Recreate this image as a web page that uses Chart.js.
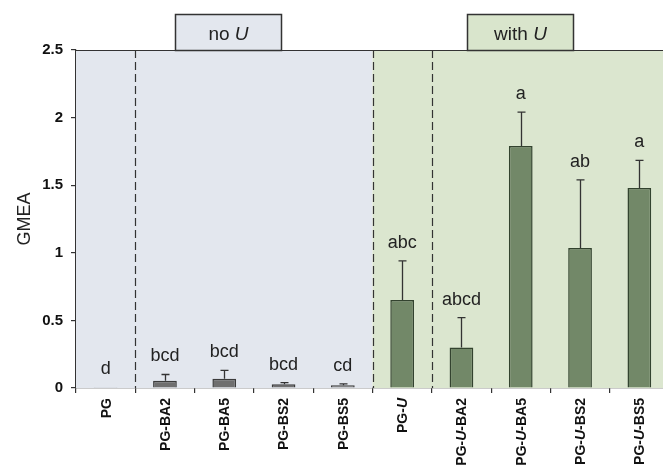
<!DOCTYPE html>
<html>
<head>
<meta charset="utf-8">
<script src="https://cdn.jsdelivr.net/npm/chart.js@4/dist/chart.umd.min.js"></script>
<style>
  html, body { margin: 0; padding: 0; background: #ffffff; overflow: hidden; }
  #wrap { width: 663px; height: 469px; overflow: hidden; }
  canvas { display: block; }
</style>
</head>
<body>
<div id="wrap"><canvas id="c" width="672" height="469"></canvas></div>
<script>
// Treatments on the x axis ("U" is drawn in italics)
const categories = ['PG', 'PG-BA2', 'PG-BA5', 'PG-BS2', 'PG-BS5',
                    'PG-U', 'PG-U-BA2', 'PG-U-BA5', 'PG-U-BS2', 'PG-U-BS5'];
// Mean GMEA per treatment
const gmeaMean = [0.005, 0.054, 0.069, 0.027, 0.020, 0.65, 0.30, 1.79, 1.035, 1.48];
// Upper error (standard error) per treatment
const gmeaError = [0, 0.046, 0.061, 0.013, 0.010, 0.29, 0.22, 0.25, 0.505, 0.204];
// Significance letters
const sigLetters = ['d', 'bcd', 'bcd', 'bcd', 'cd', 'abc', 'abcd', 'a', 'ab', 'a'];
// Group membership: 0 = no U, 1 = with U
const groupIndex = [0, 0, 0, 0, 0, 1, 1, 1, 1, 1];
const groupNames = ['no U', 'with U'];
const yTicks = [0, 0.5, 1, 1.5, 2, 2.5];

const FONT = '"Liberation Sans", Arial, sans-serif';
const INK = '#222222';
const barFill = ['#6f6f6f', '#728868'];
const barEdge = ['#3b3b3b', '#33432f'];
const panelFill = ['#e3e7ee', '#dbe6cf'];
const boxFill = ['#e3e7ee', '#d9e5cc'];

function boundary(xs, i) { // pixel between category i and i+1
  return (xs.getPixelForValue(i) + xs.getPixelForValue(i + 1)) / 2;
}

const decorations = {
  id: 'decorations',
  beforeDatasetsDraw(chart) {
    const { ctx, chartArea: a, scales: { x } } = chart;
    const split = boundary(x, 4);
    ctx.save();
    ctx.fillStyle = panelFill[0];
    ctx.fillRect(a.left, a.top, split - a.left, a.bottom - a.top);
    ctx.fillStyle = panelFill[1];
    ctx.fillRect(split, a.top, a.right - split, a.bottom - a.top);
    // dashed separators
    ctx.strokeStyle = '#333333';
    ctx.lineWidth = 1.2;
    ctx.setLineDash([8, 4]);
    [0, 4, 5].forEach(i => {
      const bx = Math.round(boundary(x, i)) + 0.5;
      ctx.beginPath();
      ctx.moveTo(bx, a.top);
      ctx.lineTo(bx, a.bottom);
      ctx.stroke();
    });
    ctx.restore();
  },
  afterDatasetsDraw(chart) {
    const { ctx, chartArea: a, scales: { x, y } } = chart;
    ctx.save();
    // error bars (upper only)
    ctx.strokeStyle = '#333333';
    ctx.lineWidth = 1.3;
    gmeaMean.forEach((m, i) => {
      const e = gmeaError[i];
      if (e <= 0) return;
      const cx = Math.round(x.getPixelForValue(i)) + 0.5;
      const y0 = y.getPixelForValue(m);
      const y1 = y.getPixelForValue(m + e);
      ctx.beginPath();
      ctx.moveTo(cx, y0);
      ctx.lineTo(cx, y1);
      ctx.moveTo(cx - 4, y1);
      ctx.lineTo(cx + 4, y1);
      ctx.stroke();
    });
    // significance letters
    ctx.fillStyle = INK;
    ctx.font = '18px ' + FONT;
    ctx.textAlign = 'center';
    ctx.textBaseline = 'alphabetic';
    gmeaMean.forEach((m, i) => {
      const cx = x.getPixelForValue(i);
      const top = y.getPixelForValue(m + gmeaError[i]);
      ctx.fillText(sigLetters[i], cx, top - 13);
    });
    // top frame line
    ctx.strokeStyle = '#333333';
    ctx.lineWidth = 1.2;
    ctx.beginPath();
    ctx.moveTo(a.left, Math.round(a.top) + 0.5);
    ctx.lineTo(a.right, Math.round(a.top) + 0.5);
    ctx.stroke();
    ctx.restore();
  },
  afterDraw(chart) {
    const { ctx, chartArea: a, scales: { x } } = chart;
    ctx.save();
    // group header boxes
    [2, 7].forEach((ci, g) => {
      const cx = x.getPixelForValue(ci) + (g === 0 ? 4 : -1);
      const w = 106, h = 36;
      const left = Math.round(cx - w / 2) + 0.5;
      const top = Math.round(a.top - h) + 0.5;
      ctx.fillStyle = boxFill[g];
      ctx.fillRect(left, top, w, h);
      ctx.strokeStyle = '#333333';
      ctx.lineWidth = 1.5;
      ctx.strokeRect(left, top, w, h);
      // text with italic U
      const parts = groupNames[g].split(' ');
      const plain = parts[0] + ' ';
      ctx.font = '19px ' + FONT;
      const w1 = ctx.measureText(plain).width;
      ctx.font = 'italic 19px ' + FONT;
      const w2 = ctx.measureText(parts[1]).width;
      let tx = left + w / 2 - (w1 + w2) / 2;
      const ty = top + h / 2 + 7;
      ctx.fillStyle = INK;
      ctx.textAlign = 'left';
      ctx.textBaseline = 'alphabetic';
      ctx.font = '19px ' + FONT;
      ctx.fillText(plain, tx, ty);
      ctx.font = 'italic 19px ' + FONT;
      ctx.fillText(parts[1], tx + w1, ty);
    });
    // rotated category labels
    categories.forEach((lab, i) => {
      const segs = [];
      lab.split('-').forEach((s, k) => {
        if (k > 0) segs.push({ t: '-', it: false });
        segs.push({ t: s, it: s === 'U' });
      });
      const fontOf = s => (s.it ? 'italic bold 14px ' : 'bold 14px ') + FONT;
      let total = 0;
      segs.forEach(s => { ctx.font = fontOf(s); s.w = ctx.measureText(s.t).width; total += s.w; });
      ctx.save();
      ctx.translate(x.getPixelForValue(i) + 1, a.bottom + 10);
      ctx.rotate(-Math.PI / 2);
      ctx.fillStyle = '#111111';
      ctx.textAlign = 'left';
      ctx.textBaseline = 'middle';
      let px = -total;
      segs.forEach(s => { ctx.font = fontOf(s); ctx.fillText(s.t, px, 0); px += s.w; });
      ctx.restore();
    });
    // y axis title
    ctx.save();
    ctx.translate(25, (a.top + a.bottom) / 2);
    ctx.rotate(-Math.PI / 2);
    ctx.fillStyle = INK;
    ctx.font = '18px ' + FONT;
    ctx.textAlign = 'center';
    ctx.textBaseline = 'middle';
    ctx.fillText('GMEA', 0, 0);
    ctx.restore();
    ctx.restore();
  }
};

new Chart(document.getElementById('c'), {
  type: 'bar',
  data: {
    labels: categories,
    datasets: [{
      data: gmeaMean,
      backgroundColor: groupIndex.map(g => barFill[g]),
      borderColor: groupIndex.map(g => barEdge[g]),
      borderWidth: 1.5,
      borderSkipped: 'bottom',
      barPercentage: 0.4,
      categoryPercentage: 1.0
    }]
  },
  options: {
    responsive: false,
    devicePixelRatio: 1,
    animation: false,
    layout: { padding: { top: 50, right: 3, left: 0, bottom: 0 } },
    plugins: { legend: { display: false }, tooltip: { enabled: false } },
    scales: {
      x: {
        offset: true,
        grid: { offset: true, drawOnChartArea: false, drawTicks: true, tickLength: 5, color: '#333333', lineWidth: 1.2 },
        border: { color: '#333333', width: 1.2 },
        ticks: { display: false },
        afterFit(s) { s.height = 81; }
      },
      y: {
        min: 0,
        max: 2.5,
        afterBuildTicks(s) { s.ticks = yTicks.map(v => ({ value: v })); },
        grid: { drawOnChartArea: false, drawTicks: true, tickLength: 5, color: '#333333', lineWidth: 1.2 },
        border: { color: '#333333', width: 1.2 },
        ticks: {
          color: '#111111',
          font: { family: FONT, size: 15, weight: 'bold' },
          padding: 8,
          callback: v => String(v)
        },
        afterFit(s) { s.width = 76; }
      }
    }
  },
  plugins: [decorations]
});
</script>
</body>
</html>
